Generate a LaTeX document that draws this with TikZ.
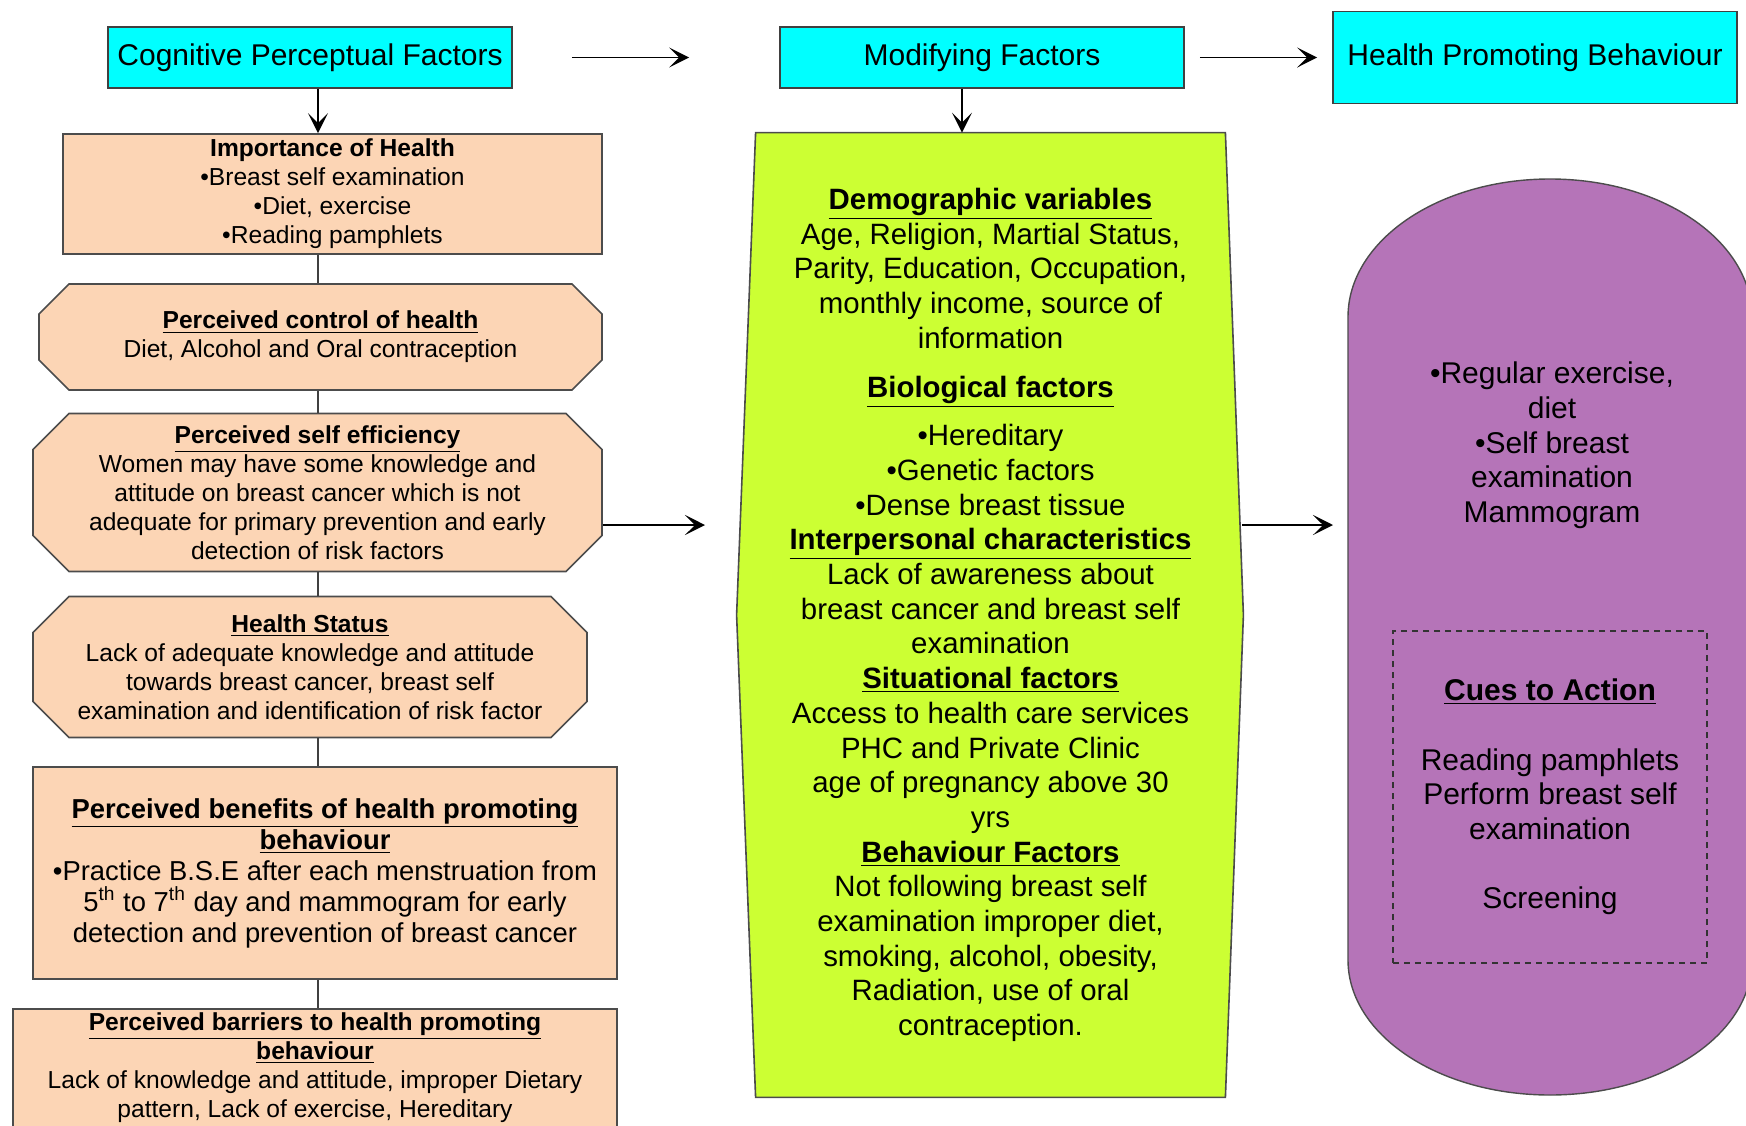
\documentclass[tikz,border=0pt]{standalone}
\usepackage{fontspec}
\setmainfont{Liberation Sans}
\usetikzlibrary{arrows.meta,shapes.misc,backgrounds}
\definecolor{headcyan}{HTML}{00FFFF}
\definecolor{peach}{HTML}{FCD5B5}
\definecolor{limebox}{HTML}{CCFF33}
\definecolor{mauve}{HTML}{B574B8}

\begin{document}
\begin{tikzpicture}[x=0.5pt, y=-0.5pt,
    head/.style={draw=black!75, line width=0.8pt, fill=headcyan, inner sep=0pt,
      font=\fontsize{15}{18}\selectfont},
    factor/.style={draw=black!70, line width=0.8pt, fill=peach, inner sep=0pt,
      align=center, font=\fontsize{12.3}{14.5}\selectfont},
    octbox/.style={factor, chamfered rectangle, chamfered rectangle sep=#1},
    link/.style={draw=black!75, line width=0.8pt},
    arr/.style={line width=0.9pt, -{Stealth[length=10pt, width=10pt, inset=5pt]}},
    modtext/.style={align=center, inner sep=0pt, font=\fontsize{14.7}{17.35}\selectfont},
    cue/.style={modtext, draw=black!80, line width=0.7pt, dash pattern=on 3pt off 2.5pt}]

    \useasboundingbox (0,0) rectangle (1746,1125);
    \clip (0,0) rectangle (1746,1125);

    \coordinate (spine) at (318,0);
    \coordinate (mspine) at (962,0);
    \coordinate (effout) at (705,525);
    \coordinate (gout) at (1242,525);
    \coordinate (hpbin) at (1333,525);

    \node (cog) at (310,57.5) [head, minimum width=202pt, minimum height=30.5pt] {Cognitive Perceptual Factors};
    \node (mod) at (982,57.5) [head, minimum width=202pt, minimum height=30.5pt] {Modifying Factors};
    \node (hpb) at (1535,57.5) [head, minimum width=202pt, minimum height=46pt] {Health Promoting Behaviour};

    \node (imp) at (332.5,194) [factor, minimum width=269.5pt, minimum height=60pt]
      {\textbf{Importance of Health}\\•Breast self examination\\•Diet, exercise\\•Reading pamphlets};
    \node (ctrl) at (320.5,337) [octbox=7.5pt, minimum width=281.5pt, minimum height=53pt]
      {\underline{\textbf{Perceived control of health}}\\Diet, Alcohol and Oral contraception};
    \node (eff) at (317.5,492.5) [octbox=9pt, inner ysep=-3pt, minimum width=284.5pt, minimum height=78.5pt]
      {\underline{\textbf{Perceived self efficiency}}\\Women may have some knowledge and\\attitude on breast cancer which is not\\adequate for primary prevention and early\\detection of risk factors};
    \node (stat) at (310,667) [octbox=9pt, minimum width=277pt, minimum height=70pt]
      {\underline{\textbf{Health Status}}\\Lack of adequate knowledge and attitude\\towards breast cancer, breast self\\examination and identification of risk factor};
    \node (ben) at (325,873) [factor, minimum width=292pt, minimum height=106pt, font=\fontsize{13.7}{15.5}\selectfont]
      {\underline{\textbf{Perceived benefits of health promoting}}\\\underline{\textbf{behaviour}}\\•Practice B.S.E after each menstruation from\\5\textsuperscript{th} to 7\textsuperscript{th} day and mammogram for early\\detection and prevention of breast cancer};
    \node (bar) at (315,1008) [factor, anchor=north, minimum width=302pt, inner ysep=2pt]
      {\underline{\textbf{Perceived barriers to health promoting}}\\\underline{\textbf{behaviour}}\\Lack of knowledge and attitude, improper Dietary\\pattern, Lack of exercise, Hereditary\\\rule{0pt}{30pt}};

    \node (mfac) at (990.5,615) [modtext, minimum width=234.5pt, minimum height=482pt]
      {\underline{\textbf{Demographic variables}}\\
       Age, Religion, Martial Status,\\
       Parity, Education, Occupation,\\
       monthly income, source of\\
       information\\[7pt]
       \underline{\textbf{Biological factors}}\\[7pt]
       •Hereditary\\
       •Genetic factors\\
       •Dense breast tissue\\
       \underline{\textbf{Interpersonal characteristics}}\\
       Lack of awareness about\\
       breast cancer and breast self\\
       examination\\
       \underline{\textbf{Situational factors}}\\
       Access to health care services\\
       PHC and Private Clinic\\
       age of pregnancy above 30\\
       yrs\\
       \underline{\textbf{Behaviour Factors}}\\
       Not following breast self\\
       examination improper diet,\\
       smoking, alcohol, obesity,\\
       Radiation, use of oral\\
       contraception.};
    \begin{scope}[on background layer]
      \draw[draw=black!70, line width=0.8pt, fill=limebox] (mfac.north west) -- (mfac.north east)
        -- ([xshift=9pt]mfac.east) -- (mfac.south east) -- (mfac.south west)
        -- ([xshift=-9.5pt]mfac.west) -- cycle;
    \end{scope}

    \draw[draw=black!70, line width=0.7pt, fill=mauve] (1348,317) .. controls (1348,240.8) and (1438.4,179) .. (1550,179)
      .. controls (1661.6,179) and (1752,240.8) .. (1752,317) -- (1752,960)
      .. controls (1752,1034.6) and (1661.6,1095) .. (1550,1095)
      .. controls (1438.4,1095) and (1348,1034.6) .. (1348,960) -- cycle;
    \node (beh) at (1552,445.5) [modtext, font=\fontsize{15}{17.35}\selectfont]
      {•Regular exercise,\\diet\\•Self breast\\examination\\Mammogram};
    \node (cues) at (1550,797) [cue, minimum width=157pt, minimum height=166pt, font=\fontsize{15}{17.35}\selectfont]
      {\underline{\textbf{Cues to Action}}\\[17.35pt]Reading pamphlets\\Perform breast self\\examination\\[17.35pt]Screening};

    \draw[arr, shorten <=29.5pt, shorten >=45pt] (cog) -- (mod);
    \draw[arr, shorten <=7.5pt, shorten >=7.5pt] (mod) -- (hpb);
    \draw[arr] (cog.south -| spine) -- (imp.north -| spine);
    \draw[arr] (mod.south -| mspine) -- (mfac.north -| mspine);

    \draw[link] (imp.south -| spine) -- (ctrl.north -| spine);
    \draw[link] (ctrl.south -| spine) -- (eff.north -| spine);
    \draw[link] (eff.south -| spine) -- (stat.north -| spine);
    \draw[link] (stat.south -| spine) -- (ben.north -| spine);
    \draw[link] (ben.south -| spine) -- (bar.north -| spine);

    \draw[arr] (eff.east |- effout) -- (effout);
    \draw[arr] (gout) -- (hpbin);

  \end{tikzpicture}
\end{document}
